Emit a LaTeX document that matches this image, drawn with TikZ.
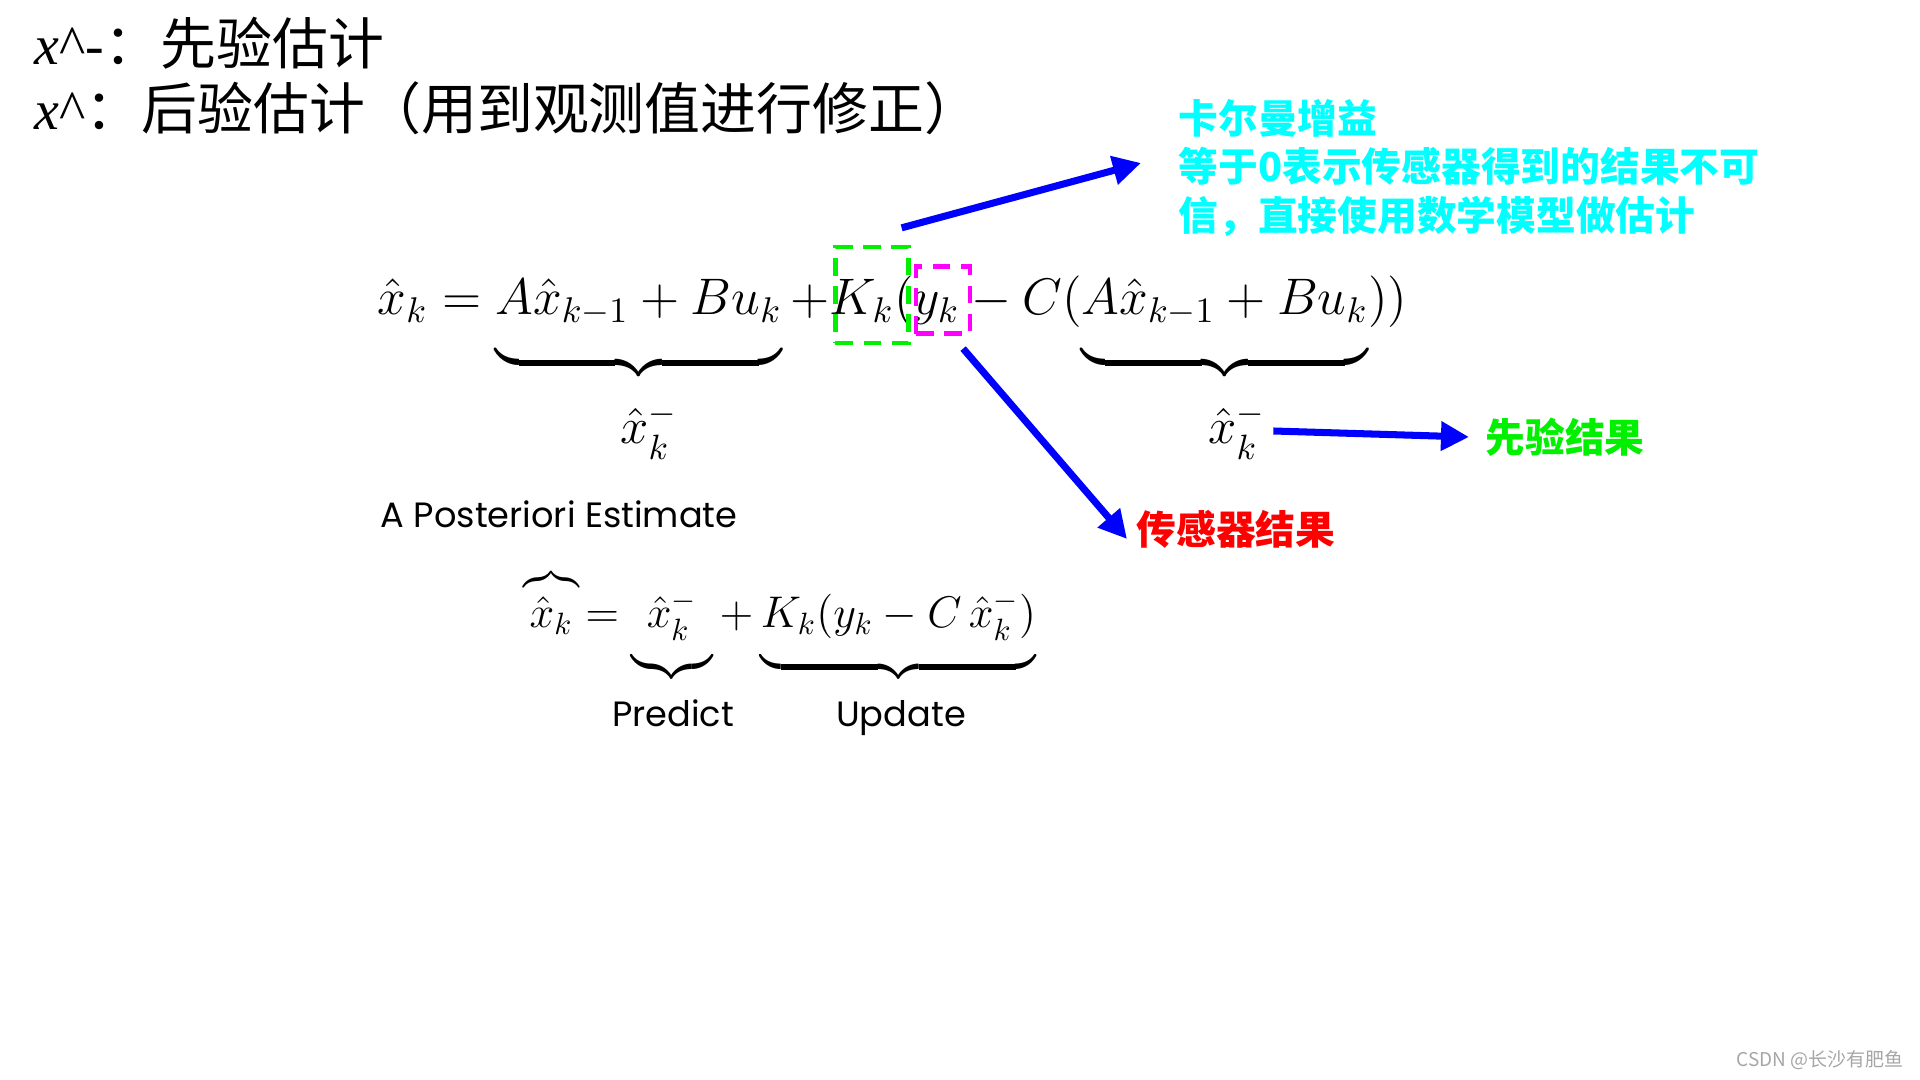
\documentclass[tikz,border=0pt]{standalone}
\usepackage{amsmath}
\usepackage{amssymb}
\usepackage{graphicx}
\usepackage{fontspec}
\setmainfont{Liberation Serif}
\newfontfamily\cjk{Noto Sans CJK SC}
\newfontfamily\estfont{Poppins}
\usepackage{tikz}
\usetikzlibrary{arrows.meta}

\definecolor{gaincyan}{RGB}{0,255,255}
\definecolor{priorgreen}{RGB}{0,240,0}
\definecolor{boxmagenta}{RGB}{255,0,255}
\definecolor{arrowblue}{RGB}{0,0,255}

% strut that pushes a brace away from its formula
\newcommand{\bracegap}[1]{\rule[-#1]{0pt}{#1}}
% small brace over a symbol
\newcommand{\tinybrace}{\makebox[0pt]{\scalebox{0.68}{$\overbrace{\hphantom{x_k}}$}}\rule{0pt}{1.2em}}

\begin{document}
\begin{tikzpicture}[x=0.01cm,y=-0.01cm,
  bluearrow/.style={-{Triangle[length=2.8mm,width=2.8mm]},line width=2pt,arrowblue},
  dashbox/.style={draw,dash pattern=on 5pt off 3pt,line width=1.2pt,inner sep=0pt},
  headtxt/.style={font=\fontsize{15.9}{19}\selectfont,inner sep=0pt,anchor=west},
  notetxt/.style={font=\cjk\bfseries\fontsize{11.3}{13.8}\selectfont,inner sep=0pt,anchor=west,align=left},
  wordtxt/.style={font=\estfont\fontsize{10}{12}\selectfont,inner sep=0pt,anchor=base},
  mathtxt/.style={font=\fontsize{14.6}{18}\selectfont,inner sep=0pt}]

\useasboundingbox (0,0) rectangle (1920,1080);

% Definitions
\node[headtxt] (priordef) at (34,43) {\textit{x}\textasciicircum-\cjk：先验估计};
\node[headtxt] (postdef) at (34,108) {\textit{x}\textasciicircum\cjk：后验估计（用到观测值进行修正）};

% Kalman equation
\node[mathtxt,anchor=base west] (kalman) at (377,315)
  {\resizebox{10.29cm}{!}{$\displaystyle \hat{x}_k = \underbrace{A\hat{x}_{k-1} + Bu_k\bracegap{0.65em}} + K_k(y_k - C(\underbrace{A\hat{x}_{k-1} + Bu_k\bracegap{0.65em}}))$}};
\node[mathtxt] (predL) at (649,431) {$\hat{x}_k^-$};
\node[mathtxt] (predR) at (1237,431) {$\hat{x}_k^-$};

% Boxes on K and y
\node[dashbox,draw=priorgreen,minimum width=0.73cm,minimum height=0.96cm] (gainbox) at (872,295) {};
\node[dashbox,draw=boxmagenta,minimum width=0.54cm,minimum height=0.67cm] (measbox) at (943,300) {};

% Notes
\node[notetxt,text=gaincyan] (gaintxt) at (1178,168) {卡尔曼增益\\等于0表示传感器得到的结果不可\\信，直接使用数学模型做估计};
\node[notetxt,text=red] (senstxt) at (1136,529) {传感器结果};
\node[notetxt,text=priorgreen] (priortxt) at (1485,437) {先验结果};

\draw[bluearrow] ([shift={(-9,-17)}]gainbox.north east) -- ([shift={(-37,-5)}]gaintxt.west);
\draw[bluearrow] ([shift={(-9,13)}]measbox.south east) -- ([shift={(-9,10)}]senstxt.west);
\draw[bluearrow] ([shift={(7,0)}]predR.east) -- ([shift={(-16,0)}]priortxt.west);

% A posteriori form
\node[wordtxt,anchor=west] (apost) at (380,514) {A Posteriori Estimate};
\node[mathtxt,anchor=base west] (update) at (529,628)
  {\resizebox{5.06cm}{!}{$\displaystyle \overset{\tinybrace}{\hat{x}_k} = \underbrace{\hat{x}_k^-\bracegap{0.6em}} + \underbrace{K_k(y_k - C\,\hat{x}_k^-)\bracegap{0.6em}}$}};
\node[wordtxt] (predict) at (673,727) {Predict};
\node[wordtxt] (upd) at (901,727) {Update};

\node[anchor=east,inner sep=0pt,text=gray!70,font=\cjk\fontsize{5.4}{6}\selectfont] (mark) at (1904,1060) {CSDN @长沙有肥鱼};

\end{tikzpicture}
\end{document}
